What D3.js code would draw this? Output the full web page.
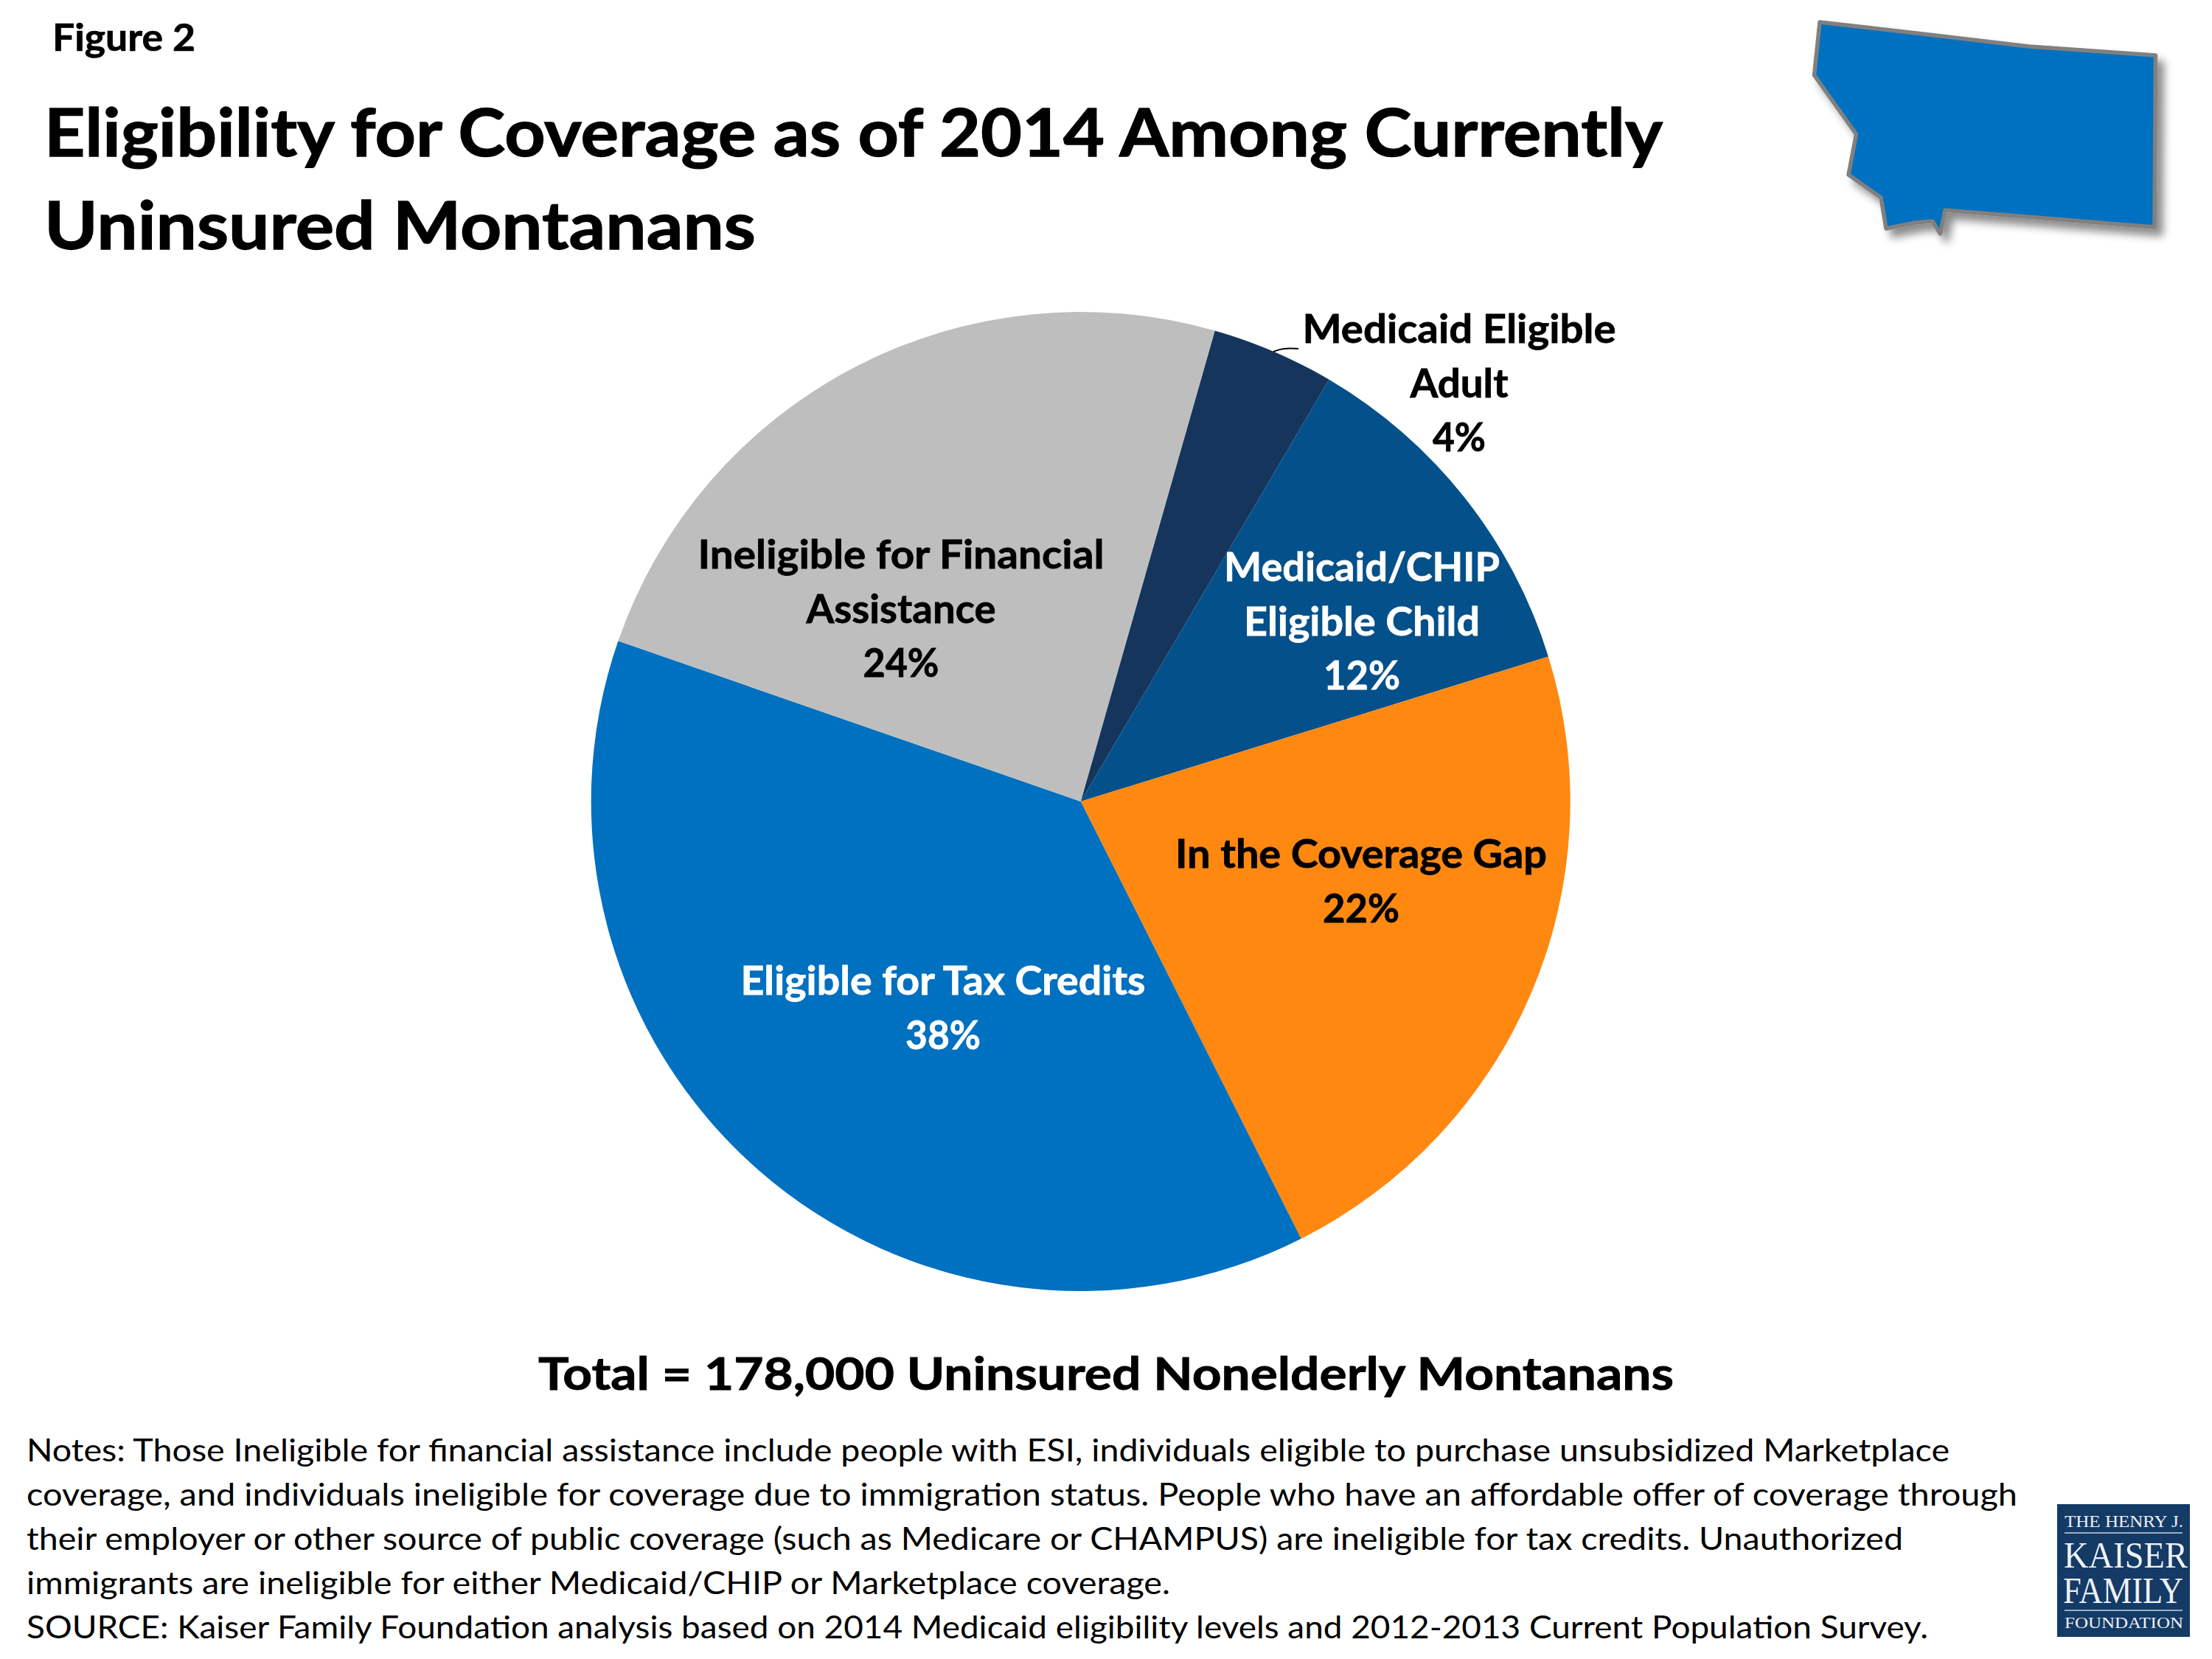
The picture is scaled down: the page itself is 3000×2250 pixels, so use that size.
<!DOCTYPE html>
<html>
<head>
<meta charset="utf-8">
<script src="https://cdn.jsdelivr.net/npm/d3@7/dist/d3.min.js"></script>
<style>html,body{margin:0;padding:0;background:#fff}svg{display:block}</style>
</head>
<body>
<div id="chart"></div>
<script>
// --- data ---
const categories = ["Medicaid Eligible Adult","Medicaid/CHIP Eligible Child","In the Coverage Gap","Eligible for Tax Credits","Ineligible for Financial Assistance"];
const shares = [4.05, 11.75, 22.35, 37.75, 24.1];
const shareLabels = ["4%","12%","22%","38%","24%"];
const sliceColors = ["#15355C","#04508A","#FF8811","#0070C0","#BEBEBE"];
const labelLines = [
  ["Medicaid Eligible","Adult"],
  ["Medicaid/CHIP","Eligible Child"],
  ["In the Coverage Gap"],
  ["Eligible for Tax Credits"],
  ["Ineligible for Financial","Assistance"]
];
const titleLines = ["Eligibility for Coverage as of 2014 Among Currently","Uninsured Montanans"];
const figureLabel = "Figure 2";
const totalLabel = "Total = 178,000 Uninsured Nonelderly Montanans";
const noteLines = [
  "Notes: Those Ineligible for financial assistance include people with ESI, individuals eligible to purchase unsubsidized Marketplace",
  "coverage, and individuals ineligible for coverage due to immigration status. People who have an affordable offer of coverage through",
  "their employer or other source of public coverage (such as Medicare or CHAMPUS) are ineligible for tax credits. Unauthorized",
  "immigrants are ineligible for either Medicaid/CHIP or Marketplace coverage.",
  "SOURCE: Kaiser Family Foundation analysis based on 2014 Medicaid eligibility levels and 2012-2013 Current Population Survey."
];

// --- layout ---
const W = 3000, H = 2250, FONT = "Lato, 'Open Sans', sans-serif", SERIF = "'Liberation Serif', serif";
const cx = 1465.7, cy = 1087, R = 664, startDeg = 15.9;
const labelColors = ["#000","#fff","#000","#fff","#000"];
const labelX = [1979, 1847, 1846, 1279, 1222];
const labelY = [465, 788, 1177, 1349, 771];
const lineStep = 73.5;
const lineWidths = [[425,133,72],[374,320,104],[504,104],[549,102],[551,257,103]];
const titleWidths = [2195, 965];
const noteEnds = [2644, 2736, 2581, 1587, 2615];
const montana = [[2468,30],[2599,45],[2752,63],[2923.5,75],[2922,308],[2638,285],[2631.5,317],[2621,300],[2597,302],[2558,310],[2551,268],[2507,237],[2517.5,182],[2460.5,102]];
const leader = [[1727,477],[1740,472],[1761,473]];

const svg = d3.select("#chart").append("svg").attr("width", W).attr("height", H).attr("viewBox", `0 0 ${W} ${H}`);
svg.append("rect").attr("width", W).attr("height", H).attr("fill", "#fff");

const defs = svg.append("defs");
defs.append("filter").attr("id","shadow").attr("x","-10%").attr("y","-10%").attr("width","125%").attr("height","130%")
  .append("feDropShadow").attr("dx",9).attr("dy",10).attr("stdDeviation",6).attr("flood-color","#000").attr("flood-opacity",0.45);

function text(g, str, x, y, size, opts = {}) {
  const fill = opts.fill || "#000";
  const t = g.append("text").attr("x", x).attr("y", y).text(str)
    .attr("font-family", opts.family || FONT).attr("font-size", size)
    .attr("font-weight", opts.weight || "normal").attr("fill", fill)
    .attr("text-anchor", opts.anchor || "start");
  if (opts.weight === "bold") t.attr("stroke", fill).attr("stroke-width", size * 0.014);
  if (opts.width) t.attr("textLength", opts.width).attr("lengthAdjust", "spacingAndGlyphs");
  return t;
}

// header
text(svg, figureLabel, 71, 69, 51, {weight:"bold", width:194});
titleLines.forEach((l,i) => text(svg, l, 60, 212 + i*126, 90, {weight:"bold", width:titleWidths[i]}));

// state shape
svg.append("path").attr("d", d3.line()(montana) + "Z").attr("fill","#0070C0").attr("stroke","#808080")
  .attr("stroke-width",5.5).attr("stroke-linejoin","round").attr("filter","url(#shadow)");

// pie
const pie = d3.pie().sort(null).value(d => d)
  .startAngle(startDeg*Math.PI/180).endAngle((startDeg+360)*Math.PI/180);
const arc = d3.arc().innerRadius(0).outerRadius(R);
const pieG = svg.append("g").attr("transform", `translate(${cx},${cy})`);
pieG.selectAll("path").data(pie(shares)).join("path")
  .attr("d", arc).attr("fill", (d,i) => sliceColors[i]);

// leader line
svg.append("path").attr("d", d3.line().curve(d3.curveBasis)(leader)).attr("fill","none").attr("stroke","#000").attr("stroke-width",2);

// slice labels
categories.forEach((c,i) => {
  const rows = [...labelLines[i], shareLabels[i]];
  rows.forEach((r,j) => text(svg, r, labelX[i], labelY[i] + j*lineStep, 54,
    {weight:"bold", anchor:"middle", fill:labelColors[i], width:lineWidths[i][j]}));
});

// total
text(svg, totalLabel, 1500, 1885, 62, {weight:"bold", anchor:"middle", width:1540});

// notes
noteLines.forEach((l,i) => text(svg, l, 36, 1982 + i*60, 42, {width:noteEnds[i]-36}));

// logo
const logo = svg.append("g");
logo.append("rect").attr("x",2790).attr("y",2040).attr("width",180).attr("height",180).attr("fill","#143A66");
[2079,2184].forEach(y => logo.append("line").attr("x1",2800).attr("x2",2960).attr("y1",y).attr("y2",y).attr("stroke","#C9D3E0").attr("stroke-width",1.6));
const logoFill = "#EEF1F5";
text(logo,"THE HENRY J.",2800,2071,23,{family:SERIF,fill:logoFill,width:161});
text(logo,"KAISER",2799,2126,50,{family:SERIF,fill:logoFill,width:168});
text(logo,"FAMILY",2798,2174,50,{family:SERIF,fill:logoFill,width:163});
text(logo,"FOUNDATION",2800,2208,22,{family:SERIF,fill:logoFill,width:161});
</script>
</body>
</html>
